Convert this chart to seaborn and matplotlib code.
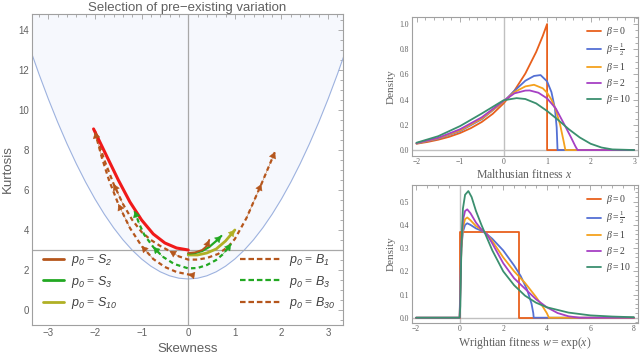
import numpy as np
import pandas as pd
import matplotlib
matplotlib.use('Agg')
import matplotlib.pyplot as plt
from matplotlib.lines import Line2D
from matplotlib.ticker import AutoMinorLocator, MultipleLocator
import seaborn as sns

sns.set_style('white')
plt.rcParams['font.family'] = ['Liberation Sans', 'DejaVu Sans']
plt.rcParams['mathtext.fontset'] = 'custom'
plt.rcParams['mathtext.rm'] = 'Liberation Serif'
plt.rcParams['mathtext.it'] = 'Liberation Serif:italic'
plt.rcParams['mathtext.sf'] = 'Liberation Sans:italic'

# ---- left panel data (skewness, kurtosis) ----
bound_skew = [-3.4, -3.2, -3.0, -2.8, -2.6, -2.4, -2.2, -2.0, -1.8, -1.6, -1.4, -1.2, -1.0, -0.8, -0.6, -0.4, -0.2, 0.0,
              0.2, 0.4, 0.6, 0.8, 1.0, 1.2, 1.4, 1.6, 1.8, 2.0, 2.2, 2.4, 2.6, 2.8, 3.0, 3.2, 3.4]
bound_kurt = [13.11, 11.79, 10.55, 9.39, 8.31, 7.31, 6.39, 5.55, 4.79, 4.11, 3.51, 2.99, 2.55, 2.19, 1.91, 1.71, 1.59, 1.55,
              1.59, 1.71, 1.91, 2.19, 2.55, 2.99, 3.51, 4.11, 4.79, 5.55, 6.39, 7.31, 8.31, 9.39, 10.55, 11.79, 13.11]

red_skew = [-2.03, -1.75, -1.5, -1.25, -1.0, -0.75, -0.5, -0.25, 0.0]
red_kurt = [9.05, 7.7, 6.5, 5.4, 4.5, 3.8, 3.35, 3.1, 3.0]

s2_skew = [0.0, 0.15, 0.3, 0.4, 0.45]
s2_kurt = [2.85, 2.88, 3.0, 3.2, 3.5]

s3_skew = [0.0, 0.15, 0.3, 0.45, 0.6, 0.71]
s3_kurt = [2.82, 2.85, 2.95, 3.15, 3.45, 3.7]

s10_skew = [0.0, 0.2, 0.4, 0.6, 0.8, 1.0]
s10_kurt = [2.75, 2.75, 2.85, 3.05, 3.45, 4.0]

b1_skew = [-2.0, -1.8, -1.6, -1.4, -1.2, -1.0, -0.8, -0.6, -0.4, -0.2, 0.0, 0.2, 0.4, 0.64, 0.85, 1.0, 1.25, 1.57, 1.86]
b1_kurt = [8.95, 7.5, 6.3, 5.3, 4.5, 3.9, 3.5, 3.2, 2.95, 2.68, 2.52, 2.52, 2.6, 2.8, 3.15, 3.55, 4.6, 6.3, 7.9]

b3_skew = [-1.15, -1.05, -0.94, -0.75, -0.55, -0.3, 0.0, 0.2, 0.4, 0.6, 0.75, 0.92]
b3_kurt = [4.95, 4.3, 3.75, 3.15, 2.67, 2.3, 2.08, 2.1, 2.25, 2.5, 2.8, 3.3]

b30_skew = [-2.0, -1.85, -1.7, -1.5, -1.25, -1.0, -0.75, -0.5, -0.25, 0.0, 0.07]
b30_kurt = [8.9, 7.6, 6.5, 5.3, 4.1, 3.2, 2.55, 2.15, 1.9, 1.78, 1.75]

# ---- right top: Malthusian fitness densities ----
m_x_b0 = [-2, -1.75, -1.5, -1.25, -1, -0.75, -0.5, -0.25, 0, 0.25, 0.5, 0.75, 0.9, 1.0, 1.0, 3.0]
m_y_b0 = [0.05, 0.064, 0.082, 0.105, 0.135, 0.174, 0.223, 0.287, 0.37, 0.472, 0.607, 0.779, 0.905, 1.0, 0.0, 0.0]
m_x_bh = [-2, -1.5, -1, -0.5, 0, 0.25, 0.5, 0.7, 0.85, 1.0, 1.1, 1.18, 1.22, 1.24, 1.5, 3.0]
m_y_bh = [0.052, 0.09, 0.15, 0.245, 0.385, 0.47, 0.55, 0.588, 0.595, 0.545, 0.46, 0.33, 0.18, 0.0, 0.0, 0.0]
m_x_b1 = [-2, -1.5, -1, -0.5, 0, 0.25, 0.5, 0.7, 0.9, 1.0, 1.1, 1.2, 1.3, 1.38, 1.42, 3.0]
m_y_b1 = [0.053, 0.093, 0.155, 0.25, 0.385, 0.46, 0.505, 0.518, 0.49, 0.455, 0.40, 0.32, 0.2, 0.07, 0.0, 0.0]
m_x_b2 = [-2, -1.5, -1, -0.5, 0, 0.25, 0.5, 0.6, 0.8, 1.0, 1.2, 1.4, 1.55, 1.65, 1.7, 3.0]
m_y_b2 = [0.055, 0.097, 0.165, 0.26, 0.39, 0.45, 0.472, 0.473, 0.455, 0.41, 0.33, 0.2, 0.1, 0.03, 0.0, 0.0]
m_x_b10 = [-2, -1.5, -1, -0.5, 0, 0.3, 0.5, 0.75, 1.0, 1.25, 1.5, 1.75, 2.0, 2.25, 2.5, 3.0]
m_y_b10 = [0.058, 0.11, 0.19, 0.29, 0.395, 0.412, 0.405, 0.37, 0.31, 0.24, 0.165, 0.1, 0.05, 0.02, 0.005, 0.0]

# ---- right bottom: Wrightian fitness densities ----
w_x_b0 = [-2, 0, 0, 2.72, 2.72, 8]
w_y_b0 = [0, 0, 0.368, 0.368, 0, 0]
w_x_bh = [-2, 0, 0.03, 0.08, 0.15, 0.25, 0.35, 0.5, 0.75, 1.0, 1.25, 1.5, 2.0, 2.5, 2.8, 3.1, 3.3, 3.38, 3.4, 8]
w_y_bh = [0, 0, 0.15, 0.3, 0.37, 0.4, 0.407, 0.4, 0.385, 0.375, 0.36, 0.34, 0.29, 0.225, 0.18, 0.12, 0.06, 0.02, 0, 0]
w_x_b1 = [-2, 0, 0.03, 0.08, 0.15, 0.25, 0.35, 0.5, 0.75, 1.0, 1.25, 1.5, 2.0, 2.5, 3.0, 3.5, 3.8, 4.0, 4.1, 8]
w_y_b1 = [0, 0, 0.12, 0.3, 0.39, 0.425, 0.432, 0.42, 0.395, 0.38, 0.36, 0.33, 0.26, 0.2, 0.15, 0.09, 0.05, 0.02, 0, 0]
w_x_b2 = [-2, 0, 0.03, 0.08, 0.15, 0.25, 0.35, 0.5, 0.75, 1.0, 1.25, 1.5, 2.0, 2.5, 3.0, 3.5, 4.0, 4.5, 5.0, 5.5, 8]
w_y_b2 = [0, 0, 0.1, 0.32, 0.42, 0.46, 0.467, 0.45, 0.41, 0.38, 0.36, 0.32, 0.235, 0.17, 0.125, 0.08, 0.045, 0.02, 0.006, 0, 0]
w_x_b10 = [-2, 0, 0.03, 0.08, 0.15, 0.25, 0.4, 0.55, 0.75, 1.0, 1.25, 1.5, 2.0, 2.5, 3.0, 3.5, 4.0, 5.0, 6.0, 7.0, 8.0]
w_y_b10 = [0, 0, 0.05, 0.3, 0.47, 0.53, 0.546, 0.52, 0.46, 0.4, 0.345, 0.29, 0.2, 0.14, 0.095, 0.065, 0.045, 0.022, 0.01, 0.005, 0.002]

beta_labels = [r'$\beta = 0$', r'$\beta = \frac{1}{2}$', r'$\beta = 1$', r'$\beta = 2$', r'$\beta = 10$']
beta_colors = ['#e8601c', '#5470d4', '#f4a11d', '#a640c4', '#3b8f6f']

RED = '#f01a1a'
BROWN = '#b5561c'
GREEN = '#22a822'
OLIVE = '#b0b025'
FRAME = '#a0a0a0'
TXT = '#606060'


def line(ax, xs, ys, color, lw, dashed=False, z=3):
    sns.lineplot(x=xs, y=ys, sort=False, estimator=None, ax=ax, color=color, lw=lw,
                 linestyle='--' if dashed else '-', zorder=z)
    if dashed:
        ax.lines[-1].set_dashes((2.0, 1.5))


def arrows(ax, xs, ys, idx, color, size=7):
    # arrowheads pointing towards larger kurtosis
    for i in idx:
        a, b = (i, i + 1) if ys[i + 1] >= ys[i] else (i + 1, i)
        ax.annotate('', xy=(xs[b], ys[b]), xytext=(xs[a], ys[a]),
                    arrowprops=dict(arrowstyle='-|>,head_length=0.6,head_width=0.35', color=color,
                                    lw=0.3, mutation_scale=size, shrinkA=0, shrinkB=0), zorder=5)


def frame(ax, fs):
    for s in ax.spines.values():
        s.set_color(FRAME)
        s.set_linewidth(0.8)
        s.set_visible(True)
    ax.tick_params(which='both', direction='in', top=True, right=True, color=FRAME,
                   labelcolor=TXT, labelsize=fs, width=0.6)
    ax.tick_params(which='major', length=3.5, pad=2)
    ax.tick_params(which='minor', length=2)


fig = plt.figure(figsize=(6.4, 3.56), dpi=100)

# ---------------- left panel ----------------
ax = fig.add_axes([0.05, 0.087, 0.486, 0.874])
ax.set_xlim(-3.35, 3.32)
ax.set_ylim(-0.75, 14.8)
ax.fill_between(bound_skew, bound_kurt, 20, color='#f6f8fd', zorder=0, lw=0)
line(ax, bound_skew, bound_kurt, '#9db2df', 0.8, z=1)
ax.axhline(3, color='#a8a8a8', lw=0.9, zorder=1)
ax.axvline(0, color='#a8a8a8', lw=0.9, zorder=1)

line(ax, b30_skew, b30_kurt, BROWN, 1.6, dashed=True)
line(ax, b1_skew, b1_kurt, BROWN, 1.6, dashed=True)
line(ax, b3_skew, b3_kurt, GREEN, 1.6, dashed=True)
line(ax, red_skew, red_kurt, RED, 2.2)
line(ax, s10_skew, s10_kurt, OLIVE, 2.0)
line(ax, s3_skew, s3_kurt, GREEN, 1.6)
line(ax, s2_skew, s2_kurt, BROWN, 1.4)

arrows(ax, b30_skew, b30_kurt, [0, 3, 5, 9], BROWN)
arrows(ax, b1_skew, b1_kurt, [2, 8, 16, 17], BROWN)
arrows(ax, b3_skew, b3_kurt, [0, 3, 10], GREEN)
arrows(ax, s2_skew, s2_kurt, [3], BROWN)
arrows(ax, s3_skew, s3_kurt, [4], GREEN)
arrows(ax, s10_skew, s10_kurt, [4], OLIVE)

ax.xaxis.set_major_locator(MultipleLocator(1))
ax.xaxis.set_minor_locator(AutoMinorLocator(5))
ax.yaxis.set_major_locator(MultipleLocator(2))
ax.yaxis.set_minor_locator(AutoMinorLocator(4))
frame(ax, 7)
ax.set_xlabel('Skewness', fontsize=9.5, color=TXT, labelpad=4)
ax.set_ylabel('Kurtosis', fontsize=9.5, color=TXT, labelpad=3)
ax.set_title('Selection of pre\u2212existing variation', fontsize=9.5, color=TXT, pad=2)

left_h = [Line2D([], [], color=c, lw=2) for c in [BROWN, GREEN, OLIVE]]
left_l = [r'$\mathsf{p_0}\,=\,\mathsf{S_2}$', r'$\mathsf{p_0}\,=\,\mathsf{S_3}$',
          r'$\mathsf{p_0}\,=\,\mathsf{S_{10}}$']
leg1 = ax.legend(left_h, left_l, loc='lower left', bbox_to_anchor=(0.01, 0.02), frameon=False,
                 fontsize=9, handlelength=1.7, handletextpad=0.6, labelspacing=0.45, borderaxespad=0.2)
for t in leg1.get_texts():
    t.set_color('#404040')
ax.add_artist(leg1)
right_h = [Line2D([], [], color=c, lw=1.6, dashes=(2.5, 1.3)) for c in [BROWN, GREEN, BROWN]]
right_l = [r'$\mathsf{p_0}\,=\,\mathsf{B_1}$', r'$\mathsf{p_0}\,=\,\mathsf{B_3}$',
           r'$\mathsf{p_0}\,=\,\mathsf{B_{30}}$']
leg2 = ax.legend(right_h, right_l, loc='lower right', bbox_to_anchor=(1.0, 0.02), frameon=False,
                 fontsize=9, handlelength=3.3, handletextpad=0.6, labelspacing=0.45, borderaxespad=0.2)
for t in leg2.get_texts():
    t.set_color('#404040')

# ---------------- right top ----------------
serif = ['Liberation Serif', 'DejaVu Serif']
ax1 = fig.add_axes([0.6433, 0.5626, 0.353, 0.3904])
ax1.set_xlim(-2.11, 3.08)
ax1.set_ylim(-0.045, 1.058)
ax1.axvline(0, color='#c0c0c0', lw=1.0, zorder=1)
ax1.axhline(0, color='#c0c0c0', lw=1.0, zorder=1)
mx = [m_x_b0, m_x_bh, m_x_b1, m_x_b2, m_x_b10]
my = [m_y_b0, m_y_bh, m_y_b1, m_y_b2, m_y_b10]
for xs, ys, c in zip(mx, my, beta_colors):
    line(ax1, xs, ys, c, 1.3)
ax1.xaxis.set_major_locator(MultipleLocator(1))
ax1.xaxis.set_minor_locator(AutoMinorLocator(5))
ax1.yaxis.set_major_locator(MultipleLocator(0.2))
ax1.yaxis.set_minor_locator(AutoMinorLocator(4))
ax1.yaxis.set_major_formatter(matplotlib.ticker.FormatStrFormatter('%.1f'))
frame(ax1, 5.5)
for t in ax1.get_xticklabels() + ax1.get_yticklabels():
    t.set_family(serif)
ax1.set_xlabel(r'Malthusian fitness $x$', fontsize=8.5, color=TXT, family=serif, labelpad=1)
ax1.set_ylabel('Density', fontsize=8, color=TXT, family=serif, labelpad=3)
bh = [Line2D([], [], color=c, lw=1.3) for c in beta_colors]
lg = ax1.legend(bh, beta_labels, loc='upper right', bbox_to_anchor=(1.0, 0.99), frameon=False,
                fontsize=7, handlelength=1.5, handletextpad=0.5, labelspacing=0.32, borderaxespad=0.3)
for t in lg.get_texts():
    t.set_color('#404040')

# ---------------- right bottom ----------------
ax2 = fig.add_axes([0.6433, 0.0935, 0.353, 0.3868])
ax2.set_xlim(-2.2, 8.17)
ax2.set_ylim(-0.0216, 0.572)
ax2.axvline(0, color='#c0c0c0', lw=1.0, zorder=1)
ax2.axhline(0, color='#c0c0c0', lw=1.0, zorder=1)
wx = [w_x_b0, w_x_bh, w_x_b1, w_x_b2, w_x_b10]
wy = [w_y_b0, w_y_bh, w_y_b1, w_y_b2, w_y_b10]
for xs, ys, c in zip(wx, wy, beta_colors):
    line(ax2, xs, ys, c, 1.3)
ax2.xaxis.set_major_locator(MultipleLocator(2))
ax2.xaxis.set_minor_locator(AutoMinorLocator(4))
ax2.yaxis.set_major_locator(MultipleLocator(0.1))
ax2.yaxis.set_minor_locator(AutoMinorLocator(5))
ax2.yaxis.set_major_formatter(matplotlib.ticker.FormatStrFormatter('%.1f'))
frame(ax2, 5.5)
for t in ax2.get_xticklabels() + ax2.get_yticklabels():
    t.set_family(serif)
ax2.set_xlabel(r'Wrightian fitness $w = \mathrm{exp}(x)$', fontsize=8.5, color=TXT, family=serif, labelpad=1)
ax2.set_ylabel('Density', fontsize=8, color=TXT, family=serif, labelpad=3)
lg2 = ax2.legend(bh, beta_labels, loc='upper right', bbox_to_anchor=(1.0, 0.99), frameon=False,
                 fontsize=7, handlelength=1.5, handletextpad=0.5, labelspacing=0.32, borderaxespad=0.3)
for t in lg2.get_texts():
    t.set_color('#404040')

fig.savefig('out.png', dpi=100)
